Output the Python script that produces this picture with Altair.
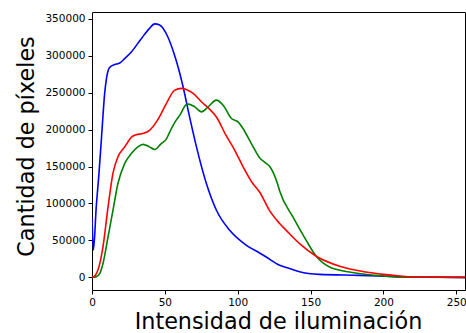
import altair as alt
import pandas as pd

# Histogram of pixel intensities per colour channel (sampled intensities)
blue_x = [0, 1, 2.9, 4.8, 6.4, 8.7, 10, 12.1, 15.5, 19, 22.4, 27, 33.8, 39.5, 43, 46.4,
          52, 56.6, 58, 62.5, 67, 71.7, 78.5, 85.4, 94.5, 106, 115, 119.6, 128.8,
          135.6, 142.5, 156, 183.6, 206, 220, 256]
blue_y = [81000, 37000, 95000, 141000, 185600, 249000, 270000, 284000, 288000, 290000,
          296000, 305000, 323000, 337000, 343000, 341500, 325600, 301000, 292000, 258000,
          217000, 176600, 127000, 90800, 63700, 43400, 33000, 27500, 16300, 12000, 7500,
          4000, 2700, 1300, 500, 0]

green_x = [0, 3, 5.3, 7.5, 11, 14.4, 17.8, 22.4, 27, 31.5, 35, 39.5, 43, 47.5, 51, 53.4,
           57.8, 60.3, 64.7, 66, 70.5, 75.1, 79.7, 85.4, 90, 95.7, 100.2, 103.6, 109.4,
           115, 119, 122, 127.6, 128.8, 137.9, 147, 153.9, 163, 176.7, 195, 211, 256]
green_y = [0, 1000, 5000, 18500, 54600, 90800, 127000, 154000, 167600, 176600, 180000,
           176600, 173000, 181000, 187000, 197000, 212700, 219500, 234000, 234500, 230700,
           224000, 230700, 239800, 233000, 215000, 210400, 201500, 181000, 162000, 155000,
           150000, 125000, 117000, 81700, 50000, 28500, 14000, 7200, 2700, 300, 0]

red_x = [0, 2, 4, 5.5, 7.5, 11, 14.4, 17.8, 22.4, 25.8, 27, 30.3, 35, 39.5, 45, 51, 56.6,
         61.4, 65, 69.4, 76, 80, 85.4, 92, 98, 103.6, 110, 115, 122, 128.8, 135.6, 142.5,
         153.9, 170, 188, 200, 211, 220, 256]
red_y = [0, 2000, 9500, 20000, 41000, 95000, 141000, 163000, 176500, 186500, 189500,
         193000, 194700, 199000, 212700, 235000, 253000, 255700, 254000, 249000, 236000,
         229000, 217000, 192000, 172000, 150000, 128000, 115600, 90000, 72800, 59000,
         45600, 28500, 14900, 7200, 4000, 1800, 500, 0]

channels = ["b", "g", "r"]
colors = ["#0000ff", "#008000", "#ff0000"]

frames = []
for name, xs, ys in [("b", blue_x, blue_y), ("g", green_x, green_y), ("r", red_x, red_y)]:
    frames.append(pd.DataFrame({"intensidad": xs, "pixeles": ys, "canal": name}))
data = pd.concat(frames, ignore_index=True)

font = "DejaVu Sans"

chart = (
    alt.Chart(data)
    .mark_line(strokeWidth=1.6, interpolate="monotone", clip=True)
    .encode(
        x=alt.X(
            "intensidad:Q",
            scale=alt.Scale(domain=[0, 256], nice=False, zero=False),
            axis=alt.Axis(
                values=[0, 50, 100, 150, 200, 250],
                format="d",
                labelFlush=False,
                title="Intensidad de iluminación",
                titleFontSize=22.3,
                titleBaseline="alphabetic",
                titleX=186,
                titleY=38,
            ),
        ),
        y=alt.Y(
            "pixeles:Q",
            scale=alt.Scale(domain=[-17100, 359100], nice=False, zero=False),
            axis=alt.Axis(
                values=[0, 50000, 100000, 150000, 200000, 250000, 300000, 350000],
                format="d",
                title="Cantidad de píxeles",
                titleFontSize=22.3,
                titleAngle=-90,
                titleAlign="center",
                titleBaseline="alphabetic",
                titleX=-59,
                titleY=134,
            ),
        ),
        color=alt.Color(
            "canal:N",
            scale=alt.Scale(domain=channels, range=colors),
            legend=None,
        ),
        order=alt.Order("canal:N"),
    )
    .properties(
        width=373,
        height=278,
        autosize=alt.AutoSizeParams(type="none"),
        padding={"left": 92, "top": 12, "right": 1, "bottom": 43},
        background="white",
    )
    .configure_view(stroke="black", strokeWidth=1)
    .configure_axis(
        grid=False,
        domain=False,
        tickColor="black",
        tickSize=4,
        tickWidth=1,
        labelPadding=3,
        labelFont=font,
        labelFontSize=10.5,
        labelColor="black",
        titleFont=font,
        titleFontWeight="normal",
        titleColor="black",
    )
)

chart.save("out.html", embed_options={"renderer": "svg", "actions": False})
